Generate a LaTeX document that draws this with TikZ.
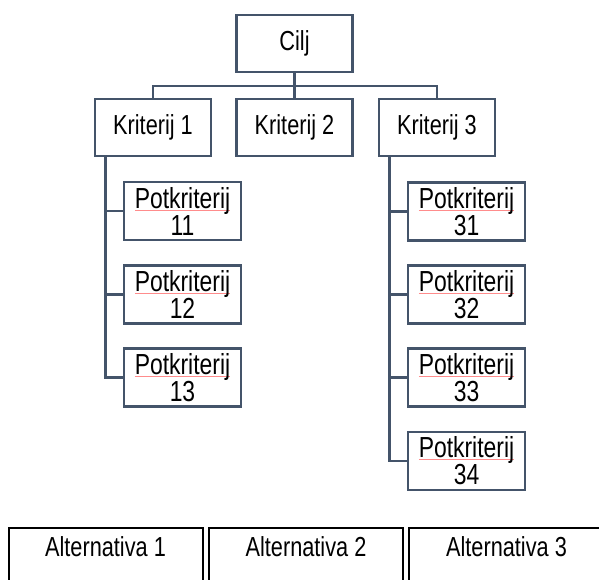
\documentclass[tikz,border=0pt]{standalone}
\usepackage{fontspec}
\setmainfont{Liberation Sans}[FakeStretch=0.79]
\definecolor{slate}{HTML}{44546A}
\newcommand\spellul[1]{\setbox0\hbox{#1}\rlap{\color{red!45}\rule[-2.2pt]{\wd0}{0.7pt}}\box0}
\tikzset{
  box/.style={draw=slate, line width=2.6pt, fill=white, minimum width=116pt, minimum height=57pt, inner sep=0pt, align=center, font=\fontsize{27.5}{27}\selectfont},
  subbox/.style={box, minimum width=117pt, minimum height=58pt, font=\fontsize{29}{27}\selectfont},
  conn/.style={draw=slate, line width=2.6pt},
  altbox/.style={draw=black, line width=2pt},
  alttext/.style={anchor=base, inner sep=0pt, font=\fontsize{27.5}{27}\selectfont}
}
\begin{document}
\begin{tikzpicture}[x=1pt,y=-1pt]
\useasboundingbox (0,0) rectangle (599,579);
% top level
\node[box] (cilj) at (294.5,43.5) {Cilj};
\node[box] (k1) at (153,127.5) {Kriterij 1};
\node[box] (k2) at (294.5,127.5) {Kriterij 2};
\node[box] (k3) at (437,127.5) {Kriterij 3};
\coordinate (bus) at (294.5,86);
\draw[conn] (k1.north) |- (bus) -| (k3.north);
\draw[conn] (cilj.south) -- (k2.north);
% sub-criteria
\node[subbox] (p11) at (182.5,211) {\spellul{Potkriterij}\\11};
\node[subbox] (p12) at (182.5,294.5) {\spellul{Potkriterij}\\12};
\node[subbox] (p13) at (182.5,377.5) {\spellul{Potkriterij}\\13};
\node[subbox] (p31) at (466.5,211.5) {\spellul{Potkriterij}\\31};
\node[subbox] (p32) at (466.5,294.5) {\spellul{Potkriterij}\\32};
\node[subbox] (p33) at (466.5,377.5) {\spellul{Potkriterij}\\33};
\node[subbox] (p34) at (466.5,461) {\spellul{Potkriterij}\\34};
\coordinate (t1) at ([xshift=11.5pt]k1.south west);
\coordinate (t3) at ([xshift=11.5pt]k3.south west);
\draw[conn] (t1) |- (p11.west);
\draw[conn] (t1) |- (p12.west);
\draw[conn] (t1) |- (p13.west);
\draw[conn] (t3) |- (p31.west);
\draw[conn] (t3) |- (p32.west);
\draw[conn] (t3) |- (p33.west);
\draw[conn] (t3) |- (p34.west);
% alternatives
\draw[altbox] (8.5,528) rectangle (202.5,600);
\draw[altbox] (209,528) rectangle (403,600);
\draw[altbox] (409,528) rectangle (620,600);
\node[alttext] (a1) at (105.5,556) {Alternativa 1};
\node[alttext] (a2) at (306,556) {Alternativa 2};
\node[alttext] (a3) at (506.5,556) {Alternativa 3};
\end{tikzpicture}
\end{document}
